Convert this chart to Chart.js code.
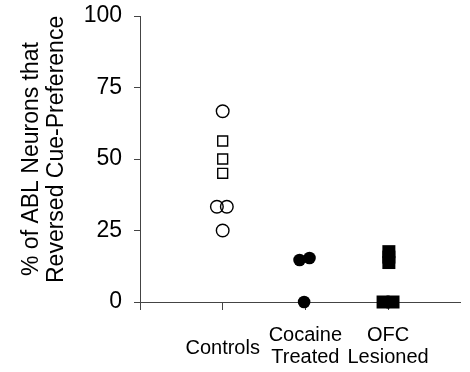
<!DOCTYPE html>
<html lang="en">
<head>
    <meta charset="UTF-8">
    <title>ABL neurons reversal</title>
    <script src="https://cdn.jsdelivr.net/npm/chart.js"></script>
    <style>
        body {
            margin: 0;
            background-color: white;
        }

        .wrap {
            width: 470px;
            height: 372px;
        }
    </style>
</head>
<body>
    <div class="wrap">
        <canvas id="reversalChart"></canvas>
    </div>

    <script>
        // group labels along x (index 0 is the blank origin tick)
        const categories = ['', 'Controls', ['Cocaine', 'Treated'], ['OFC', 'Lesioned']];
        const yTicks = [0, 25, 50, 75, 100];

        // controls, open circles
        const ctrlCircleX = [1, 0.93, 1.05, 1];
        const ctrlCircleY = [66.7, 33.3, 33.3, 25];
        // controls, open squares
        const ctrlSquareX = [1, 1, 1];
        const ctrlSquareY = [56.3, 50, 45];
        // cocaine treated, filled circles
        const cocaineX = [1.93, 2.05, 1.985];
        const cocaineY = [14.7, 15.4, 0];
        // OFC lesioned, filled squares
        const ofcX = [3.01, 3.01, 3.01, 2.94, 3.06];
        const ofcY = [13.8, 15.7, 17.6, 0, 0];

        const toPoints = (xs, ys) => xs.map((x, i) => ({ x: x, y: ys[i] }));

        const font = "'Liberation Sans', Arial, sans-serif";
        const axisColor = '#444';

        const ctx = document.getElementById('reversalChart').getContext('2d');
        new Chart(ctx, {
            type: 'scatter',
            data: {
                datasets: [
                    {
                        data: toPoints(ctrlCircleX, ctrlCircleY),
                        pointStyle: 'circle',
                        pointRadius: 6.3,
                        borderWidth: 1.4,
                        borderColor: 'black',
                        backgroundColor: 'rgba(0,0,0,0)',
                        clip: false
                    },
                    {
                        data: toPoints(ctrlSquareX, ctrlSquareY),
                        pointStyle: 'rect',
                        pointRadius: 7,
                        borderWidth: 1.4,
                        borderColor: 'black',
                        backgroundColor: 'white',
                        clip: false
                    },
                    {
                        data: toPoints(cocaineX, cocaineY),
                        pointStyle: 'circle',
                        pointRadius: 6.3,
                        borderWidth: 0,
                        backgroundColor: 'black',
                        clip: false
                    },
                    {
                        data: toPoints(ofcX, ofcY),
                        pointStyle: 'rect',
                        pointRadius: 9.2,
                        borderWidth: 0,
                        backgroundColor: 'black',
                        clip: false
                    }
                ]
            },
            options: {
                responsive: true,
                maintainAspectRatio: false,
                animation: false,
                layout: {
                    padding: { left: 0, top: 16, right: 0, bottom: 0 }
                },
                plugins: {
                    legend: { display: false },
                    tooltip: { enabled: false }
                },
                scales: {
                    x: {
                        type: 'linear',
                        min: 0,
                        max: 3.88,
                        afterBuildTicks: axis => {
                            axis.ticks = categories.map((c, i) => ({ value: i }));
                        },
                        afterFit: axis => {
                            axis.height = 70;
                            axis.paddingLeft = 0;
                            axis.paddingRight = 0;
                        },
                        ticks: {
                            callback: (v, i) => categories[i],
                            color: 'black',
                            // single-line label sits a bit lower than the two-line ones
                            font: c => ({
                                family: font,
                                size: 20,
                                lineHeight: c.index === 1 ? '18px' : '22.5px'
                            }),
                            maxRotation: 0,
                            autoSkip: false,
                            padding: 25,
                            crossAlign: 'center'
                        },
                        grid: {
                            drawOnChartArea: false,
                            color: axisColor,
                            tickLength: 8
                        },
                        border: { color: axisColor, width: 1 }
                    },
                    y: {
                        min: 0,
                        max: 100,
                        afterBuildTicks: axis => {
                            axis.ticks = yTicks.map(v => ({ value: v }));
                        },
                        afterFit: axis => {
                            axis.width = 140;
                            axis.paddingTop = 0;
                            axis.paddingBottom = 0;
                        },
                        ticks: {
                            color: 'black',
                            font: { family: font, size: 23 },
                            padding: 12
                        },
                        grid: {
                            drawOnChartArea: false,
                            color: axisColor,
                            tickLength: 6
                        },
                        border: { color: axisColor, width: 1 },
                        title: {
                            display: true,
                            text: ['% of ABL Neurons that', '   Reversed Cue-Preference'],
                            color: 'black',
                            font: { family: font, size: 23, lineHeight: '25px' },
                            padding: { top: 19.5, bottom: 10 }
                        }
                    }
                }
            }
        });
    </script>
</body>
</html>
